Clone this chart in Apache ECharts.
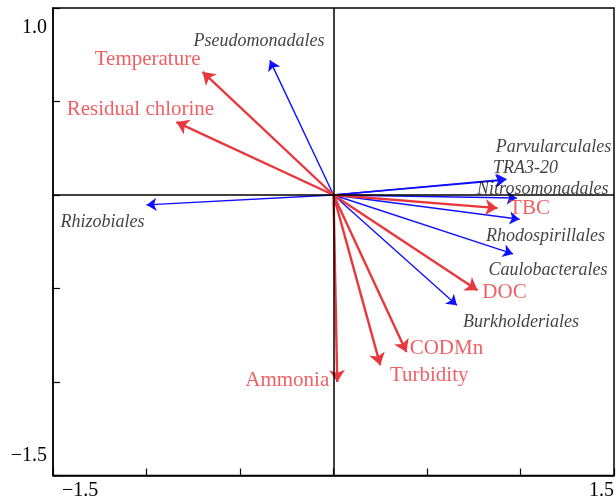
<!DOCTYPE html>
<html>
<head>
<meta charset="utf-8">
<script src="https://cdn.jsdelivr.net/npm/echarts@6/dist/echarts.min.js"></script>
<style>
html,body{margin:0;padding:0;background:#fff;}
#chart{width:616px;height:501px;}
</style>
</head>
<body>
<div id="chart"></div>
<script>
// Environmental factors (red arrows)
const envNames = ['Temperature','Residual chlorine','TBC','DOC','CODMn','Turbidity','Ammonia'];
const envX = [-0.70, -0.84, 0.877, 0.77, 0.39, 0.25, 0.02];
const envY = [0.658, 0.39, -0.07, -0.51, -0.84, -0.91, -1.0];

// Species / orders (blue arrows)
const spNames = ['Pseudomonadales','Rhizobiales','Parvularculales','TRA3-20','Nitrosomonadales','Rhodospirillales','Caulobacterales','Burkholderiales'];
const spX = [-0.34, -1.0, 0.925, 0.92, 0.98, 0.995, 0.96, 0.66];
const spY = [0.72, -0.053, 0.085, 0.08, -0.016, -0.13, -0.315, -0.59];

// Axis tick labels
const xTickValues = [-1.5, 1.5];
const xTickLabels = ['\u22121.5', '1.5'];
const yTickValues = [1.0, -1.5];
const yTickLabels = ['1.0', '\u22121.5'];

// Label offsets (pixels, relative to arrow tip) — layout only
const envLabelOffset = [[-55,-12],[-36,-13],[32,0],[27,2],[40,-4],[49,10],[-50,-2]];
const spLabelOffset = [[-11,-19],[-44,17],[47,-32],[20,-12],[26,-9],[26,17],[35,16],[64,17]];

const RED = '#e8383d';
const BLUE = '#1010ff';
const FONT = '"Liberation Serif", "DejaVu Serif", serif';

function arrows(xs, ys) {
  return xs.map((x, i) => ({ coords: [[0, 0], [x, ys[i]]] }));
}
function tipLabels(names, xs, ys, offs, color, size, italic) {
  return names.map((n, i) => ({
    value: [xs[i], ys[i]],
    label: {
      show: true, formatter: n, position: 'inside', offset: offs[i],
      color: color, fontSize: size, fontFamily: FONT,
      fontStyle: italic ? 'italic' : 'normal',
      align: 'center', verticalAlign: 'middle'
    }
  }));
}

const chart = echarts.init(document.getElementById('chart'), null, { renderer: 'canvas' });
chart.setOption({
  animation: false,
  backgroundColor: '#fff',
  grid: { left: 53, right: 2, top: 8, bottom: 25.5, show: true, borderColor: '#000', borderWidth: 1.5, backgroundColor: 'transparent', outerBoundsMode: 'none' },
  xAxis: {
    type: 'value', min: -1.5, max: 1.5, interval: 0.5,
    axisLine: { show: true, onZero: false, lineStyle: { color: '#000', width: 1.5 } },
    axisTick: { show: true, inside: true, length: 7, lineStyle: { color: '#000', width: 1.2 } },
    splitLine: { show: false },
    axisLabel: {
      show: true, margin: 5, color: '#000', fontSize: 20, fontFamily: FONT,
      padding: [0, 0, 0, 9],
      alignMinLabel: 'left', alignMaxLabel: 'right',
      formatter: v => { const k = xTickValues.findIndex(t => Math.abs(t - v) < 1e-9); return k >= 0 ? xTickLabels[k] : ''; }
    }
  },
  yAxis: {
    type: 'value', min: -1.5, max: 1.0, interval: 0.5,
    axisLine: { show: true, onZero: false, lineStyle: { color: '#000', width: 1.5 } },
    axisTick: { show: true, inside: true, length: 7, lineStyle: { color: '#000', width: 1.2 } },
    splitLine: { show: false },
    axisLabel: {
      show: true, margin: 6, color: '#000', fontSize: 20, fontFamily: FONT,
      padding: [10, 0, 10, 0],
      verticalAlignMinLabel: 'bottom', verticalAlignMaxLabel: 'top',
      formatter: v => { const k = yTickValues.findIndex(t => Math.abs(t - v) < 1e-9); return k >= 0 ? yTickLabels[k] : ''; }
    }
  },
  series: [
    {
      type: 'scatter', data: [], silent: true,
      markLine: {
        silent: true, symbol: 'none', animation: false,
        label: { show: false },
        lineStyle: { color: '#000', width: 1.5, type: 'solid' },
        data: [{ xAxis: 0 }, { yAxis: 0 }]
      }
    },
    {
      type: 'lines', coordinateSystem: 'cartesian2d', silent: true,
      symbol: ['none', 'arrow'], symbolSize: [0, 10],
      lineStyle: { color: BLUE, width: 1.4, opacity: 1, curveness: 0 },
      data: arrows(spX, spY)
    },
    {
      type: 'lines', coordinateSystem: 'cartesian2d', silent: true,
      symbol: ['none', 'arrow'], symbolSize: [0, 12],
      lineStyle: { color: RED, width: 2.4, opacity: 1, curveness: 0 },
      data: arrows(envX, envY)
    },
    {
      type: 'scatter', symbolSize: 0, silent: true,
      data: tipLabels(spNames, spX, spY, spLabelOffset, '#111', 18, true)
    },
    {
      type: 'scatter', symbolSize: 0, silent: true,
      data: tipLabels(envNames, envX, envY, envLabelOffset, RED, 21, false)
    }
  ]
});
</script>
</body>
</html>
